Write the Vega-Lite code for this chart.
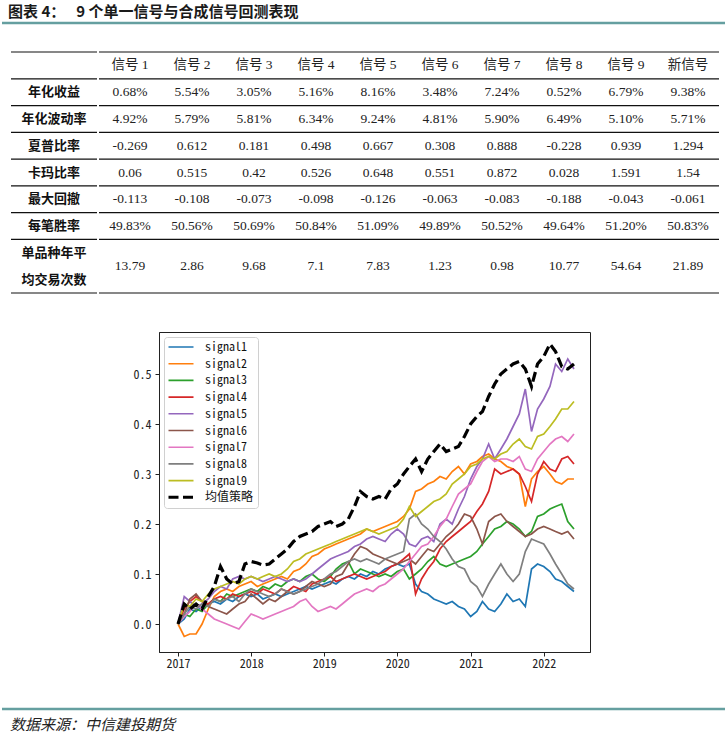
{
  "$schema": "https://vega.github.io/schema/vega-lite/v6.json",
  "padding": 0,
  "background": "white",
  "spacing": 0,
  "resolve": {"scale": {"color": "independent"}, "legend": {"color": "independent"}},
  "config": {"view": {"stroke": null}, "concat": {"spacing": 0}},
  "datasets": {
    "rowlabels": [
      {"row": "r1", "label": "年化收益"},
      {"row": "r2", "label": "年化波动率"},
      {"row": "r3", "label": "夏普比率"},
      {"row": "r4", "label": "卡玛比率"},
      {"row": "r5", "label": "最大回撤"},
      {"row": "r6", "label": "每笔胜率"},
      {"row": "r7a", "label": "单品种年平"},
      {"row": "r7b", "label": "均交易次数"}
    ],
    "hlines": [
      {"row": "hdr"}, {"row": "r1"}, {"row": "r2"}, {"row": "r3"}, {"row": "r4"}, {"row": "r5"}, {"row": "r6"}, {"row": "r7a"}
    ],
    "hbottom": [{"row": "r7b"}],
    "colheads": [
      {"row": "hdr", "col": "信号 1", "text": "信号 1"},
      {"row": "hdr", "col": "信号 2", "text": "信号 2"},
      {"row": "hdr", "col": "信号 3", "text": "信号 3"},
      {"row": "hdr", "col": "信号 4", "text": "信号 4"},
      {"row": "hdr", "col": "信号 5", "text": "信号 5"},
      {"row": "hdr", "col": "信号 6", "text": "信号 6"},
      {"row": "hdr", "col": "信号 7", "text": "信号 7"},
      {"row": "hdr", "col": "信号 8", "text": "信号 8"},
      {"row": "hdr", "col": "信号 9", "text": "信号 9"},
      {"row": "hdr", "col": "新信号", "text": "新信号"}
    ],
    "cells": [
      {"row": "r1", "col": "信号 1", "text": "0.68%"}, {"row": "r1", "col": "信号 2", "text": "5.54%"}, {"row": "r1", "col": "信号 3", "text": "3.05%"}, {"row": "r1", "col": "信号 4", "text": "5.16%"}, {"row": "r1", "col": "信号 5", "text": "8.16%"}, {"row": "r1", "col": "信号 6", "text": "3.48%"}, {"row": "r1", "col": "信号 7", "text": "7.24%"}, {"row": "r1", "col": "信号 8", "text": "0.52%"}, {"row": "r1", "col": "信号 9", "text": "6.79%"}, {"row": "r1", "col": "新信号", "text": "9.38%"},
      {"row": "r2", "col": "信号 1", "text": "4.92%"}, {"row": "r2", "col": "信号 2", "text": "5.79%"}, {"row": "r2", "col": "信号 3", "text": "5.81%"}, {"row": "r2", "col": "信号 4", "text": "6.34%"}, {"row": "r2", "col": "信号 5", "text": "9.24%"}, {"row": "r2", "col": "信号 6", "text": "4.81%"}, {"row": "r2", "col": "信号 7", "text": "5.90%"}, {"row": "r2", "col": "信号 8", "text": "6.49%"}, {"row": "r2", "col": "信号 9", "text": "5.10%"}, {"row": "r2", "col": "新信号", "text": "5.71%"},
      {"row": "r3", "col": "信号 1", "text": "-0.269"}, {"row": "r3", "col": "信号 2", "text": "0.612"}, {"row": "r3", "col": "信号 3", "text": "0.181"}, {"row": "r3", "col": "信号 4", "text": "0.498"}, {"row": "r3", "col": "信号 5", "text": "0.667"}, {"row": "r3", "col": "信号 6", "text": "0.308"}, {"row": "r3", "col": "信号 7", "text": "0.888"}, {"row": "r3", "col": "信号 8", "text": "-0.228"}, {"row": "r3", "col": "信号 9", "text": "0.939"}, {"row": "r3", "col": "新信号", "text": "1.294"},
      {"row": "r4", "col": "信号 1", "text": "0.06"}, {"row": "r4", "col": "信号 2", "text": "0.515"}, {"row": "r4", "col": "信号 3", "text": "0.42"}, {"row": "r4", "col": "信号 4", "text": "0.526"}, {"row": "r4", "col": "信号 5", "text": "0.648"}, {"row": "r4", "col": "信号 6", "text": "0.551"}, {"row": "r4", "col": "信号 7", "text": "0.872"}, {"row": "r4", "col": "信号 8", "text": "0.028"}, {"row": "r4", "col": "信号 9", "text": "1.591"}, {"row": "r4", "col": "新信号", "text": "1.54"},
      {"row": "r5", "col": "信号 1", "text": "-0.113"}, {"row": "r5", "col": "信号 2", "text": "-0.108"}, {"row": "r5", "col": "信号 3", "text": "-0.073"}, {"row": "r5", "col": "信号 4", "text": "-0.098"}, {"row": "r5", "col": "信号 5", "text": "-0.126"}, {"row": "r5", "col": "信号 6", "text": "-0.063"}, {"row": "r5", "col": "信号 7", "text": "-0.083"}, {"row": "r5", "col": "信号 8", "text": "-0.188"}, {"row": "r5", "col": "信号 9", "text": "-0.043"}, {"row": "r5", "col": "新信号", "text": "-0.061"},
      {"row": "r6", "col": "信号 1", "text": "49.83%"}, {"row": "r6", "col": "信号 2", "text": "50.56%"}, {"row": "r6", "col": "信号 3", "text": "50.69%"}, {"row": "r6", "col": "信号 4", "text": "50.84%"}, {"row": "r6", "col": "信号 5", "text": "51.09%"}, {"row": "r6", "col": "信号 6", "text": "49.89%"}, {"row": "r6", "col": "信号 7", "text": "50.52%"}, {"row": "r6", "col": "信号 8", "text": "49.64%"}, {"row": "r6", "col": "信号 9", "text": "51.20%"}, {"row": "r6", "col": "新信号", "text": "50.83%"}
    ],
    "cells7": [
      {"row": "r7a", "col": "信号 1", "text": "13.79"}, {"row": "r7a", "col": "信号 2", "text": "2.86"}, {"row": "r7a", "col": "信号 3", "text": "9.68"}, {"row": "r7a", "col": "信号 4", "text": "7.1"}, {"row": "r7a", "col": "信号 5", "text": "7.83"}, {"row": "r7a", "col": "信号 6", "text": "1.23"}, {"row": "r7a", "col": "信号 7", "text": "0.98"}, {"row": "r7a", "col": "信号 8", "text": "10.77"}, {"row": "r7a", "col": "信号 9", "text": "54.64"}, {"row": "r7a", "col": "新信号", "text": "21.89"}
    ],
    "lines": [
      {"date":"2017-01-01","series":"signal1","value":0},{"date":"2017-02-01","series":"signal1","value":0.01},{"date":"2017-03-01","series":"signal1","value":0.03},{"date":"2017-04-01","series":"signal1","value":0.025},{"date":"2017-05-01","series":"signal1","value":0.035},{"date":"2017-06-01","series":"signal1","value":0.04},{"date":"2017-07-01","series":"signal1","value":0.045},{"date":"2017-08-01","series":"signal1","value":0.04},{"date":"2017-09-01","series":"signal1","value":0.05},{"date":"2017-10-01","series":"signal1","value":0.045},{"date":"2017-11-01","series":"signal1","value":0.055},{"date":"2017-12-01","series":"signal1","value":0.06},
      {"date":"2018-01-01","series":"signal1","value":0.055},{"date":"2018-02-01","series":"signal1","value":0.06},{"date":"2018-03-01","series":"signal1","value":0.05},{"date":"2018-04-01","series":"signal1","value":0.055},{"date":"2018-05-01","series":"signal1","value":0.06},{"date":"2018-06-01","series":"signal1","value":0.055},{"date":"2018-07-01","series":"signal1","value":0.06},{"date":"2018-08-01","series":"signal1","value":0.065},{"date":"2018-09-01","series":"signal1","value":0.07},{"date":"2018-10-01","series":"signal1","value":0.075},{"date":"2018-11-01","series":"signal1","value":0.07},{"date":"2018-12-01","series":"signal1","value":0.075},
      {"date":"2019-01-01","series":"signal1","value":0.08},{"date":"2019-02-01","series":"signal1","value":0.085},{"date":"2019-03-01","series":"signal1","value":0.08},{"date":"2019-04-01","series":"signal1","value":0.09},{"date":"2019-05-01","series":"signal1","value":0.095},{"date":"2019-06-01","series":"signal1","value":0.09},{"date":"2019-07-01","series":"signal1","value":0.1},{"date":"2019-08-01","series":"signal1","value":0.095},{"date":"2019-09-01","series":"signal1","value":0.105},{"date":"2019-10-01","series":"signal1","value":0.1},{"date":"2019-11-01","series":"signal1","value":0.11},{"date":"2019-12-01","series":"signal1","value":0.115},
      {"date":"2020-01-01","series":"signal1","value":0.12},{"date":"2020-02-01","series":"signal1","value":0.115},{"date":"2020-03-01","series":"signal1","value":0.12},{"date":"2020-04-01","series":"signal1","value":0.08},{"date":"2020-05-01","series":"signal1","value":0.065},{"date":"2020-06-01","series":"signal1","value":0.06},{"date":"2020-07-01","series":"signal1","value":0.05},{"date":"2020-08-01","series":"signal1","value":0.045},{"date":"2020-09-01","series":"signal1","value":0.04},{"date":"2020-10-01","series":"signal1","value":0.045},{"date":"2020-11-01","series":"signal1","value":0.035},{"date":"2020-12-01","series":"signal1","value":0.03},
      {"date":"2021-01-01","series":"signal1","value":0.015},{"date":"2021-02-01","series":"signal1","value":0.025},{"date":"2021-03-01","series":"signal1","value":0.045},{"date":"2021-04-01","series":"signal1","value":0.03},{"date":"2021-05-01","series":"signal1","value":0.025},{"date":"2021-06-01","series":"signal1","value":0.04},{"date":"2021-07-01","series":"signal1","value":0.06},{"date":"2021-08-01","series":"signal1","value":0.045},{"date":"2021-09-01","series":"signal1","value":0.05},{"date":"2021-10-01","series":"signal1","value":0.035},{"date":"2021-11-01","series":"signal1","value":0.11},{"date":"2021-12-01","series":"signal1","value":0.12},
      {"date":"2022-01-01","series":"signal1","value":0.115},{"date":"2022-02-01","series":"signal1","value":0.105},{"date":"2022-03-01","series":"signal1","value":0.09},{"date":"2022-04-01","series":"signal1","value":0.085},{"date":"2022-05-01","series":"signal1","value":0.075},{"date":"2022-06-01","series":"signal1","value":0.065},

      {"date":"2017-01-01","series":"signal2","value":0},{"date":"2017-02-01","series":"signal2","value":-0.025},{"date":"2017-03-01","series":"signal2","value":-0.02},{"date":"2017-04-01","series":"signal2","value":-0.02},{"date":"2017-05-01","series":"signal2","value":0},{"date":"2017-06-01","series":"signal2","value":0.03},{"date":"2017-07-01","series":"signal2","value":0.055},{"date":"2017-08-01","series":"signal2","value":0.065},{"date":"2017-09-01","series":"signal2","value":0.07},{"date":"2017-10-01","series":"signal2","value":0.065},{"date":"2017-11-01","series":"signal2","value":0.075},{"date":"2017-12-01","series":"signal2","value":0.08},
      {"date":"2018-01-01","series":"signal2","value":0.085},{"date":"2018-02-01","series":"signal2","value":0.075},{"date":"2018-03-01","series":"signal2","value":0.08},{"date":"2018-04-01","series":"signal2","value":0.085},{"date":"2018-05-01","series":"signal2","value":0.09},{"date":"2018-06-01","series":"signal2","value":0.095},{"date":"2018-07-01","series":"signal2","value":0.09},{"date":"2018-08-01","series":"signal2","value":0.105},{"date":"2018-09-01","series":"signal2","value":0.11},{"date":"2018-10-01","series":"signal2","value":0.12},{"date":"2018-11-01","series":"signal2","value":0.135},{"date":"2018-12-01","series":"signal2","value":0.14},
      {"date":"2019-01-01","series":"signal2","value":0.15},{"date":"2019-02-01","series":"signal2","value":0.155},{"date":"2019-03-01","series":"signal2","value":0.16},{"date":"2019-04-01","series":"signal2","value":0.165},{"date":"2019-05-01","series":"signal2","value":0.17},{"date":"2019-06-01","series":"signal2","value":0.175},{"date":"2019-07-01","series":"signal2","value":0.18},{"date":"2019-08-01","series":"signal2","value":0.19},{"date":"2019-09-01","series":"signal2","value":0.185},{"date":"2019-10-01","series":"signal2","value":0.19},{"date":"2019-11-01","series":"signal2","value":0.195},{"date":"2019-12-01","series":"signal2","value":0.2},
      {"date":"2020-01-01","series":"signal2","value":0.205},{"date":"2020-02-01","series":"signal2","value":0.215},{"date":"2020-03-01","series":"signal2","value":0.23},{"date":"2020-04-01","series":"signal2","value":0.265},{"date":"2020-05-01","series":"signal2","value":0.27},{"date":"2020-06-01","series":"signal2","value":0.28},{"date":"2020-07-01","series":"signal2","value":0.285},{"date":"2020-08-01","series":"signal2","value":0.295},{"date":"2020-09-01","series":"signal2","value":0.29},{"date":"2020-10-01","series":"signal2","value":0.305},{"date":"2020-11-01","series":"signal2","value":0.315},{"date":"2020-12-01","series":"signal2","value":0.3},
      {"date":"2021-01-01","series":"signal2","value":0.32},{"date":"2021-02-01","series":"signal2","value":0.325},{"date":"2021-03-01","series":"signal2","value":0.335},{"date":"2021-04-01","series":"signal2","value":0.34},{"date":"2021-05-01","series":"signal2","value":0.33},{"date":"2021-06-01","series":"signal2","value":0.325},{"date":"2021-07-01","series":"signal2","value":0.315},{"date":"2021-08-01","series":"signal2","value":0.31},{"date":"2021-09-01","series":"signal2","value":0.3},{"date":"2021-10-01","series":"signal2","value":0.235},{"date":"2021-11-01","series":"signal2","value":0.29},{"date":"2021-12-01","series":"signal2","value":0.305},
      {"date":"2022-01-01","series":"signal2","value":0.315},{"date":"2022-02-01","series":"signal2","value":0.3},{"date":"2022-03-01","series":"signal2","value":0.285},{"date":"2022-04-01","series":"signal2","value":0.28},{"date":"2022-05-01","series":"signal2","value":0.29},{"date":"2022-06-01","series":"signal2","value":0.29},

      {"date":"2017-01-01","series":"signal3","value":0},{"date":"2017-02-01","series":"signal3","value":0.02},{"date":"2017-03-01","series":"signal3","value":0.015},{"date":"2017-04-01","series":"signal3","value":0.03},{"date":"2017-05-01","series":"signal3","value":0.025},{"date":"2017-06-01","series":"signal3","value":0.04},{"date":"2017-07-01","series":"signal3","value":0.05},{"date":"2017-08-01","series":"signal3","value":0.045},{"date":"2017-09-01","series":"signal3","value":0.06},{"date":"2017-10-01","series":"signal3","value":0.055},{"date":"2017-11-01","series":"signal3","value":0.06},{"date":"2017-12-01","series":"signal3","value":0.065},
      {"date":"2018-01-01","series":"signal3","value":0.07},{"date":"2018-02-01","series":"signal3","value":0.065},{"date":"2018-03-01","series":"signal3","value":0.075},{"date":"2018-04-01","series":"signal3","value":0.07},{"date":"2018-05-01","series":"signal3","value":0.08},{"date":"2018-06-01","series":"signal3","value":0.075},{"date":"2018-07-01","series":"signal3","value":0.085},{"date":"2018-08-01","series":"signal3","value":0.09},{"date":"2018-09-01","series":"signal3","value":0.085},{"date":"2018-10-01","series":"signal3","value":0.095},{"date":"2018-11-01","series":"signal3","value":0.1},{"date":"2018-12-01","series":"signal3","value":0.09},
      {"date":"2019-01-01","series":"signal3","value":0.085},{"date":"2019-02-01","series":"signal3","value":0.095},{"date":"2019-03-01","series":"signal3","value":0.11},{"date":"2019-04-01","series":"signal3","value":0.12},{"date":"2019-05-01","series":"signal3","value":0.125},{"date":"2019-06-01","series":"signal3","value":0.1},{"date":"2019-07-01","series":"signal3","value":0.11},{"date":"2019-08-01","series":"signal3","value":0.105},{"date":"2019-09-01","series":"signal3","value":0.1},{"date":"2019-10-01","series":"signal3","value":0.095},{"date":"2019-11-01","series":"signal3","value":0.1},{"date":"2019-12-01","series":"signal3","value":0.095},
      {"date":"2020-01-01","series":"signal3","value":0.105},{"date":"2020-02-01","series":"signal3","value":0.11},{"date":"2020-03-01","series":"signal3","value":0.09},{"date":"2020-04-01","series":"signal3","value":0.1},{"date":"2020-05-01","series":"signal3","value":0.11},{"date":"2020-06-01","series":"signal3","value":0.125},{"date":"2020-07-01","series":"signal3","value":0.135},{"date":"2020-08-01","series":"signal3","value":0.12},{"date":"2020-09-01","series":"signal3","value":0.115},{"date":"2020-10-01","series":"signal3","value":0.12},{"date":"2020-11-01","series":"signal3","value":0.125},{"date":"2020-12-01","series":"signal3","value":0.13},
      {"date":"2021-01-01","series":"signal3","value":0.135},{"date":"2021-02-01","series":"signal3","value":0.145},{"date":"2021-03-01","series":"signal3","value":0.16},{"date":"2021-04-01","series":"signal3","value":0.175},{"date":"2021-05-01","series":"signal3","value":0.19},{"date":"2021-06-01","series":"signal3","value":0.195},{"date":"2021-07-01","series":"signal3","value":0.205},{"date":"2021-08-01","series":"signal3","value":0.2},{"date":"2021-09-01","series":"signal3","value":0.19},{"date":"2021-10-01","series":"signal3","value":0.175},{"date":"2021-11-01","series":"signal3","value":0.185},{"date":"2021-12-01","series":"signal3","value":0.215},
      {"date":"2022-01-01","series":"signal3","value":0.22},{"date":"2022-02-01","series":"signal3","value":0.23},{"date":"2022-03-01","series":"signal3","value":0.235},{"date":"2022-04-01","series":"signal3","value":0.24},{"date":"2022-05-01","series":"signal3","value":0.205},{"date":"2022-06-01","series":"signal3","value":0.19},

      {"date":"2017-01-01","series":"signal4","value":0},{"date":"2017-02-01","series":"signal4","value":0.03},{"date":"2017-03-01","series":"signal4","value":0.045},{"date":"2017-04-01","series":"signal4","value":0.055},{"date":"2017-05-01","series":"signal4","value":0.045},{"date":"2017-06-01","series":"signal4","value":0.04},{"date":"2017-07-01","series":"signal4","value":0.05},{"date":"2017-08-01","series":"signal4","value":0.055},{"date":"2017-09-01","series":"signal4","value":0.05},{"date":"2017-10-01","series":"signal4","value":0.06},{"date":"2017-11-01","series":"signal4","value":0.055},{"date":"2017-12-01","series":"signal4","value":0.06},
      {"date":"2018-01-01","series":"signal4","value":0.065},{"date":"2018-02-01","series":"signal4","value":0.06},{"date":"2018-03-01","series":"signal4","value":0.07},{"date":"2018-04-01","series":"signal4","value":0.065},{"date":"2018-05-01","series":"signal4","value":0.06},{"date":"2018-06-01","series":"signal4","value":0.07},{"date":"2018-07-01","series":"signal4","value":0.065},{"date":"2018-08-01","series":"signal4","value":0.075},{"date":"2018-09-01","series":"signal4","value":0.07},{"date":"2018-10-01","series":"signal4","value":0.065},{"date":"2018-11-01","series":"signal4","value":0.08},{"date":"2018-12-01","series":"signal4","value":0.085},
      {"date":"2019-01-01","series":"signal4","value":0.09},{"date":"2019-02-01","series":"signal4","value":0.095},{"date":"2019-03-01","series":"signal4","value":0.085},{"date":"2019-04-01","series":"signal4","value":0.09},{"date":"2019-05-01","series":"signal4","value":0.095},{"date":"2019-06-01","series":"signal4","value":0.1},{"date":"2019-07-01","series":"signal4","value":0.095},{"date":"2019-08-01","series":"signal4","value":0.09},{"date":"2019-09-01","series":"signal4","value":0.095},{"date":"2019-10-01","series":"signal4","value":0.1},{"date":"2019-11-01","series":"signal4","value":0.105},{"date":"2019-12-01","series":"signal4","value":0.115},
      {"date":"2020-01-01","series":"signal4","value":0.12},{"date":"2020-02-01","series":"signal4","value":0.13},{"date":"2020-03-01","series":"signal4","value":0.14},{"date":"2020-04-01","series":"signal4","value":0.06},{"date":"2020-05-01","series":"signal4","value":0.09},{"date":"2020-06-01","series":"signal4","value":0.11},{"date":"2020-07-01","series":"signal4","value":0.125},{"date":"2020-08-01","series":"signal4","value":0.15},{"date":"2020-09-01","series":"signal4","value":0.165},{"date":"2020-10-01","series":"signal4","value":0.175},{"date":"2020-11-01","series":"signal4","value":0.185},{"date":"2020-12-01","series":"signal4","value":0.195},
      {"date":"2021-01-01","series":"signal4","value":0.205},{"date":"2021-02-01","series":"signal4","value":0.225},{"date":"2021-03-01","series":"signal4","value":0.24},{"date":"2021-04-01","series":"signal4","value":0.265},{"date":"2021-05-01","series":"signal4","value":0.31},{"date":"2021-06-01","series":"signal4","value":0.3},{"date":"2021-07-01","series":"signal4","value":0.305},{"date":"2021-08-01","series":"signal4","value":0.31},{"date":"2021-09-01","series":"signal4","value":0.3},{"date":"2021-10-01","series":"signal4","value":0.275},{"date":"2021-11-01","series":"signal4","value":0.245},{"date":"2021-12-01","series":"signal4","value":0.3},
      {"date":"2022-01-01","series":"signal4","value":0.325},{"date":"2022-02-01","series":"signal4","value":0.31},{"date":"2022-03-01","series":"signal4","value":0.305},{"date":"2022-04-01","series":"signal4","value":0.33},{"date":"2022-05-01","series":"signal4","value":0.335},{"date":"2022-06-01","series":"signal4","value":0.32},

      {"date":"2017-01-01","series":"signal5","value":0},{"date":"2017-02-01","series":"signal5","value":0.055},{"date":"2017-03-01","series":"signal5","value":0.045},{"date":"2017-04-01","series":"signal5","value":0.035},{"date":"2017-05-01","series":"signal5","value":0.04},{"date":"2017-06-01","series":"signal5","value":0.05},{"date":"2017-07-01","series":"signal5","value":0.065},{"date":"2017-08-01","series":"signal5","value":0.075},{"date":"2017-09-01","series":"signal5","value":0.07},{"date":"2017-10-01","series":"signal5","value":0.09},{"date":"2017-11-01","series":"signal5","value":0.095},{"date":"2017-12-01","series":"signal5","value":0.09},
      {"date":"2018-01-01","series":"signal5","value":0.095},{"date":"2018-02-01","series":"signal5","value":0.09},{"date":"2018-03-01","series":"signal5","value":0.085},{"date":"2018-04-01","series":"signal5","value":0.09},{"date":"2018-05-01","series":"signal5","value":0.095},{"date":"2018-06-01","series":"signal5","value":0.09},{"date":"2018-07-01","series":"signal5","value":0.085},{"date":"2018-08-01","series":"signal5","value":0.09},{"date":"2018-09-01","series":"signal5","value":0.085},{"date":"2018-10-01","series":"signal5","value":0.09},{"date":"2018-11-01","series":"signal5","value":0.1},{"date":"2018-12-01","series":"signal5","value":0.11},
      {"date":"2019-01-01","series":"signal5","value":0.12},{"date":"2019-02-01","series":"signal5","value":0.13},{"date":"2019-03-01","series":"signal5","value":0.135},{"date":"2019-04-01","series":"signal5","value":0.14},{"date":"2019-05-01","series":"signal5","value":0.145},{"date":"2019-06-01","series":"signal5","value":0.155},{"date":"2019-07-01","series":"signal5","value":0.16},{"date":"2019-08-01","series":"signal5","value":0.17},{"date":"2019-09-01","series":"signal5","value":0.175},{"date":"2019-10-01","series":"signal5","value":0.17},{"date":"2019-11-01","series":"signal5","value":0.165},{"date":"2019-12-01","series":"signal5","value":0.18},
      {"date":"2020-01-01","series":"signal5","value":0.19},{"date":"2020-02-01","series":"signal5","value":0.18},{"date":"2020-03-01","series":"signal5","value":0.16},{"date":"2020-04-01","series":"signal5","value":0.155},{"date":"2020-05-01","series":"signal5","value":0.17},{"date":"2020-06-01","series":"signal5","value":0.175},{"date":"2020-07-01","series":"signal5","value":0.165},{"date":"2020-08-01","series":"signal5","value":0.2},{"date":"2020-09-01","series":"signal5","value":0.21},{"date":"2020-10-01","series":"signal5","value":0.2},{"date":"2020-11-01","series":"signal5","value":0.23},{"date":"2020-12-01","series":"signal5","value":0.255},
      {"date":"2021-01-01","series":"signal5","value":0.29},{"date":"2021-02-01","series":"signal5","value":0.315},{"date":"2021-03-01","series":"signal5","value":0.33},{"date":"2021-04-01","series":"signal5","value":0.36},{"date":"2021-05-01","series":"signal5","value":0.33},{"date":"2021-06-01","series":"signal5","value":0.35},{"date":"2021-07-01","series":"signal5","value":0.37},{"date":"2021-08-01","series":"signal5","value":0.395},{"date":"2021-09-01","series":"signal5","value":0.42},{"date":"2021-10-01","series":"signal5","value":0.47},{"date":"2021-11-01","series":"signal5","value":0.385},{"date":"2021-12-01","series":"signal5","value":0.43},
      {"date":"2022-01-01","series":"signal5","value":0.45},{"date":"2022-02-01","series":"signal5","value":0.475},{"date":"2022-03-01","series":"signal5","value":0.52},{"date":"2022-04-01","series":"signal5","value":0.505},{"date":"2022-05-01","series":"signal5","value":0.53},{"date":"2022-06-01","series":"signal5","value":0.51},

      {"date":"2017-01-01","series":"signal6","value":0},{"date":"2017-02-01","series":"signal6","value":0.02},{"date":"2017-03-01","series":"signal6","value":0.05},{"date":"2017-04-01","series":"signal6","value":0.06},{"date":"2017-05-01","series":"signal6","value":0.045},{"date":"2017-06-01","series":"signal6","value":0.035},{"date":"2017-07-01","series":"signal6","value":0.03},{"date":"2017-08-01","series":"signal6","value":0.025},{"date":"2017-09-01","series":"signal6","value":0.02},{"date":"2017-10-01","series":"signal6","value":0.03},{"date":"2017-11-01","series":"signal6","value":0.04},{"date":"2017-12-01","series":"signal6","value":0.045},
      {"date":"2018-01-01","series":"signal6","value":0.06},{"date":"2018-02-01","series":"signal6","value":0.05},{"date":"2018-03-01","series":"signal6","value":0.04},{"date":"2018-04-01","series":"signal6","value":0.05},{"date":"2018-05-01","series":"signal6","value":0.045},{"date":"2018-06-01","series":"signal6","value":0.055},{"date":"2018-07-01","series":"signal6","value":0.065},{"date":"2018-08-01","series":"signal6","value":0.06},{"date":"2018-09-01","series":"signal6","value":0.065},{"date":"2018-10-01","series":"signal6","value":0.075},{"date":"2018-11-01","series":"signal6","value":0.085},{"date":"2018-12-01","series":"signal6","value":0.08},
      {"date":"2019-01-01","series":"signal6","value":0.075},{"date":"2019-02-01","series":"signal6","value":0.08},{"date":"2019-03-01","series":"signal6","value":0.095},{"date":"2019-04-01","series":"signal6","value":0.1},{"date":"2019-05-01","series":"signal6","value":0.12},{"date":"2019-06-01","series":"signal6","value":0.14},{"date":"2019-07-01","series":"signal6","value":0.155},{"date":"2019-08-01","series":"signal6","value":0.15},{"date":"2019-09-01","series":"signal6","value":0.14},{"date":"2019-10-01","series":"signal6","value":0.135},{"date":"2019-11-01","series":"signal6","value":0.13},{"date":"2019-12-01","series":"signal6","value":0.125},
      {"date":"2020-01-01","series":"signal6","value":0.12},{"date":"2020-02-01","series":"signal6","value":0.125},{"date":"2020-03-01","series":"signal6","value":0.13},{"date":"2020-04-01","series":"signal6","value":0.12},{"date":"2020-05-01","series":"signal6","value":0.135},{"date":"2020-06-01","series":"signal6","value":0.15},{"date":"2020-07-01","series":"signal6","value":0.145},{"date":"2020-08-01","series":"signal6","value":0.16},{"date":"2020-09-01","series":"signal6","value":0.175},{"date":"2020-10-01","series":"signal6","value":0.185},{"date":"2020-11-01","series":"signal6","value":0.2},{"date":"2020-12-01","series":"signal6","value":0.22},
      {"date":"2021-01-01","series":"signal6","value":0.215},{"date":"2021-02-01","series":"signal6","value":0.19},{"date":"2021-03-01","series":"signal6","value":0.16},{"date":"2021-04-01","series":"signal6","value":0.205},{"date":"2021-05-01","series":"signal6","value":0.215},{"date":"2021-06-01","series":"signal6","value":0.22},{"date":"2021-07-01","series":"signal6","value":0.205},{"date":"2021-08-01","series":"signal6","value":0.195},{"date":"2021-09-01","series":"signal6","value":0.185},{"date":"2021-10-01","series":"signal6","value":0.175},{"date":"2021-11-01","series":"signal6","value":0.18},{"date":"2021-12-01","series":"signal6","value":0.19},
      {"date":"2022-01-01","series":"signal6","value":0.195},{"date":"2022-02-01","series":"signal6","value":0.19},{"date":"2022-03-01","series":"signal6","value":0.185},{"date":"2022-04-01","series":"signal6","value":0.18},{"date":"2022-05-01","series":"signal6","value":0.185},{"date":"2022-06-01","series":"signal6","value":0.17},

      {"date":"2017-01-01","series":"signal7","value":0},{"date":"2017-02-01","series":"signal7","value":0.015},{"date":"2017-03-01","series":"signal7","value":0.025},{"date":"2017-04-01","series":"signal7","value":0.04},{"date":"2017-05-01","series":"signal7","value":0.03},{"date":"2017-06-01","series":"signal7","value":0.02},{"date":"2017-07-01","series":"signal7","value":0.01},{"date":"2017-08-01","series":"signal7","value":0.005},{"date":"2017-09-01","series":"signal7","value":0},{"date":"2017-10-01","series":"signal7","value":-0.005},{"date":"2017-11-01","series":"signal7","value":-0.01},{"date":"2017-12-01","series":"signal7","value":0.005},
      {"date":"2018-01-01","series":"signal7","value":0.02},{"date":"2018-02-01","series":"signal7","value":0.015},{"date":"2018-03-01","series":"signal7","value":0.01},{"date":"2018-04-01","series":"signal7","value":0.015},{"date":"2018-05-01","series":"signal7","value":0.02},{"date":"2018-06-01","series":"signal7","value":0.025},{"date":"2018-07-01","series":"signal7","value":0.03},{"date":"2018-08-01","series":"signal7","value":0.035},{"date":"2018-09-01","series":"signal7","value":0.045},{"date":"2018-10-01","series":"signal7","value":0.05},{"date":"2018-11-01","series":"signal7","value":0.035},{"date":"2018-12-01","series":"signal7","value":0.025},
      {"date":"2019-01-01","series":"signal7","value":0.03},{"date":"2019-02-01","series":"signal7","value":0.035},{"date":"2019-03-01","series":"signal7","value":0.03},{"date":"2019-04-01","series":"signal7","value":0.04},{"date":"2019-05-01","series":"signal7","value":0.05},{"date":"2019-06-01","series":"signal7","value":0.06},{"date":"2019-07-01","series":"signal7","value":0.065},{"date":"2019-08-01","series":"signal7","value":0.07},{"date":"2019-09-01","series":"signal7","value":0.065},{"date":"2019-10-01","series":"signal7","value":0.075},{"date":"2019-11-01","series":"signal7","value":0.08},{"date":"2019-12-01","series":"signal7","value":0.09},
      {"date":"2020-01-01","series":"signal7","value":0.1},{"date":"2020-02-01","series":"signal7","value":0.11},{"date":"2020-03-01","series":"signal7","value":0.125},{"date":"2020-04-01","series":"signal7","value":0.14},{"date":"2020-05-01","series":"signal7","value":0.155},{"date":"2020-06-01","series":"signal7","value":0.16},{"date":"2020-07-01","series":"signal7","value":0.175},{"date":"2020-08-01","series":"signal7","value":0.195},{"date":"2020-09-01","series":"signal7","value":0.21},{"date":"2020-10-01","series":"signal7","value":0.235},{"date":"2020-11-01","series":"signal7","value":0.26},{"date":"2020-12-01","series":"signal7","value":0.27},
      {"date":"2021-01-01","series":"signal7","value":0.28},{"date":"2021-02-01","series":"signal7","value":0.305},{"date":"2021-03-01","series":"signal7","value":0.325},{"date":"2021-04-01","series":"signal7","value":0.335},{"date":"2021-05-01","series":"signal7","value":0.325},{"date":"2021-06-01","series":"signal7","value":0.33},{"date":"2021-07-01","series":"signal7","value":0.33},{"date":"2021-08-01","series":"signal7","value":0.325},{"date":"2021-09-01","series":"signal7","value":0.335},{"date":"2021-10-01","series":"signal7","value":0.31},{"date":"2021-11-01","series":"signal7","value":0.305},{"date":"2021-12-01","series":"signal7","value":0.33},
      {"date":"2022-01-01","series":"signal7","value":0.345},{"date":"2022-02-01","series":"signal7","value":0.36},{"date":"2022-03-01","series":"signal7","value":0.37},{"date":"2022-04-01","series":"signal7","value":0.375},{"date":"2022-05-01","series":"signal7","value":0.365},{"date":"2022-06-01","series":"signal7","value":0.38},

      {"date":"2017-01-01","series":"signal8","value":0},{"date":"2017-02-01","series":"signal8","value":0.02},{"date":"2017-03-01","series":"signal8","value":0.035},{"date":"2017-04-01","series":"signal8","value":0.03},{"date":"2017-05-01","series":"signal8","value":0.04},{"date":"2017-06-01","series":"signal8","value":0.035},{"date":"2017-07-01","series":"signal8","value":0.05},{"date":"2017-08-01","series":"signal8","value":0.045},{"date":"2017-09-01","series":"signal8","value":0.05},{"date":"2017-10-01","series":"signal8","value":0.055},{"date":"2017-11-01","series":"signal8","value":0.045},{"date":"2017-12-01","series":"signal8","value":0.06},
      {"date":"2018-01-01","series":"signal8","value":0.07},{"date":"2018-02-01","series":"signal8","value":0.065},{"date":"2018-03-01","series":"signal8","value":0.06},{"date":"2018-04-01","series":"signal8","value":0.055},{"date":"2018-05-01","series":"signal8","value":0.06},{"date":"2018-06-01","series":"signal8","value":0.07},{"date":"2018-07-01","series":"signal8","value":0.065},{"date":"2018-08-01","series":"signal8","value":0.06},{"date":"2018-09-01","series":"signal8","value":0.065},{"date":"2018-10-01","series":"signal8","value":0.07},{"date":"2018-11-01","series":"signal8","value":0.075},{"date":"2018-12-01","series":"signal8","value":0.08},
      {"date":"2019-01-01","series":"signal8","value":0.09},{"date":"2019-02-01","series":"signal8","value":0.1},{"date":"2019-03-01","series":"signal8","value":0.105},{"date":"2019-04-01","series":"signal8","value":0.115},{"date":"2019-05-01","series":"signal8","value":0.125},{"date":"2019-06-01","series":"signal8","value":0.13},{"date":"2019-07-01","series":"signal8","value":0.125},{"date":"2019-08-01","series":"signal8","value":0.13},{"date":"2019-09-01","series":"signal8","value":0.125},{"date":"2019-10-01","series":"signal8","value":0.12},{"date":"2019-11-01","series":"signal8","value":0.13},{"date":"2019-12-01","series":"signal8","value":0.135},
      {"date":"2020-01-01","series":"signal8","value":0.14},{"date":"2020-02-01","series":"signal8","value":0.145},{"date":"2020-03-01","series":"signal8","value":0.21},{"date":"2020-04-01","series":"signal8","value":0.22},{"date":"2020-05-01","series":"signal8","value":0.2},{"date":"2020-06-01","series":"signal8","value":0.19},{"date":"2020-07-01","series":"signal8","value":0.175},{"date":"2020-08-01","series":"signal8","value":0.165},{"date":"2020-09-01","series":"signal8","value":0.15},{"date":"2020-10-01","series":"signal8","value":0.13},{"date":"2020-11-01","series":"signal8","value":0.115},{"date":"2020-12-01","series":"signal8","value":0.11},
      {"date":"2021-01-01","series":"signal8","value":0.085},{"date":"2021-02-01","series":"signal8","value":0.075},{"date":"2021-03-01","series":"signal8","value":0.055},{"date":"2021-04-01","series":"signal8","value":0.08},{"date":"2021-05-01","series":"signal8","value":0.1},{"date":"2021-06-01","series":"signal8","value":0.12},{"date":"2021-07-01","series":"signal8","value":0.1},{"date":"2021-08-01","series":"signal8","value":0.085},{"date":"2021-09-01","series":"signal8","value":0.1},{"date":"2021-10-01","series":"signal8","value":0.145},{"date":"2021-11-01","series":"signal8","value":0.17},{"date":"2021-12-01","series":"signal8","value":0.165},
      {"date":"2022-01-01","series":"signal8","value":0.16},{"date":"2022-02-01","series":"signal8","value":0.14},{"date":"2022-03-01","series":"signal8","value":0.12},{"date":"2022-04-01","series":"signal8","value":0.1},{"date":"2022-05-01","series":"signal8","value":0.08},{"date":"2022-06-01","series":"signal8","value":0.07},

      {"date":"2017-01-01","series":"signal9","value":0},{"date":"2017-02-01","series":"signal9","value":0.04},{"date":"2017-03-01","series":"signal9","value":0.035},{"date":"2017-04-01","series":"signal9","value":0.05},{"date":"2017-05-01","series":"signal9","value":0.045},{"date":"2017-06-01","series":"signal9","value":0.06},{"date":"2017-07-01","series":"signal9","value":0.07},{"date":"2017-08-01","series":"signal9","value":0.075},{"date":"2017-09-01","series":"signal9","value":0.08},{"date":"2017-10-01","series":"signal9","value":0.085},{"date":"2017-11-01","series":"signal9","value":0.08},{"date":"2017-12-01","series":"signal9","value":0.09},
      {"date":"2018-01-01","series":"signal9","value":0.095},{"date":"2018-02-01","series":"signal9","value":0.09},{"date":"2018-03-01","series":"signal9","value":0.095},{"date":"2018-04-01","series":"signal9","value":0.1},{"date":"2018-05-01","series":"signal9","value":0.095},{"date":"2018-06-01","series":"signal9","value":0.1},{"date":"2018-07-01","series":"signal9","value":0.11},{"date":"2018-08-01","series":"signal9","value":0.125},{"date":"2018-09-01","series":"signal9","value":0.13},{"date":"2018-10-01","series":"signal9","value":0.14},{"date":"2018-11-01","series":"signal9","value":0.145},{"date":"2018-12-01","series":"signal9","value":0.15},
      {"date":"2019-01-01","series":"signal9","value":0.155},{"date":"2019-02-01","series":"signal9","value":0.16},{"date":"2019-03-01","series":"signal9","value":0.165},{"date":"2019-04-01","series":"signal9","value":0.17},{"date":"2019-05-01","series":"signal9","value":0.175},{"date":"2019-06-01","series":"signal9","value":0.18},{"date":"2019-07-01","series":"signal9","value":0.185},{"date":"2019-08-01","series":"signal9","value":0.19},{"date":"2019-09-01","series":"signal9","value":0.185},{"date":"2019-10-01","series":"signal9","value":0.18},{"date":"2019-11-01","series":"signal9","value":0.185},{"date":"2019-12-01","series":"signal9","value":0.19},
      {"date":"2020-01-01","series":"signal9","value":0.195},{"date":"2020-02-01","series":"signal9","value":0.21},{"date":"2020-03-01","series":"signal9","value":0.235},{"date":"2020-04-01","series":"signal9","value":0.215},{"date":"2020-05-01","series":"signal9","value":0.225},{"date":"2020-06-01","series":"signal9","value":0.235},{"date":"2020-07-01","series":"signal9","value":0.245},{"date":"2020-08-01","series":"signal9","value":0.25},{"date":"2020-09-01","series":"signal9","value":0.26},{"date":"2020-10-01","series":"signal9","value":0.28},{"date":"2020-11-01","series":"signal9","value":0.29},{"date":"2020-12-01","series":"signal9","value":0.3},
      {"date":"2021-01-01","series":"signal9","value":0.315},{"date":"2021-02-01","series":"signal9","value":0.32},{"date":"2021-03-01","series":"signal9","value":0.33},{"date":"2021-04-01","series":"signal9","value":0.335},{"date":"2021-05-01","series":"signal9","value":0.33},{"date":"2021-06-01","series":"signal9","value":0.34},{"date":"2021-07-01","series":"signal9","value":0.345},{"date":"2021-08-01","series":"signal9","value":0.36},{"date":"2021-09-01","series":"signal9","value":0.37},{"date":"2021-10-01","series":"signal9","value":0.355},{"date":"2021-11-01","series":"signal9","value":0.35},{"date":"2021-12-01","series":"signal9","value":0.375},
      {"date":"2022-01-01","series":"signal9","value":0.38},{"date":"2022-02-01","series":"signal9","value":0.395},{"date":"2022-03-01","series":"signal9","value":0.41},{"date":"2022-04-01","series":"signal9","value":0.43},{"date":"2022-05-01","series":"signal9","value":0.43},{"date":"2022-06-01","series":"signal9","value":0.445},

      {"date":"2017-01-01","series":"均值策略","value":0},{"date":"2017-02-01","series":"均值策略","value":0.04},{"date":"2017-03-01","series":"均值策略","value":0.03},{"date":"2017-04-01","series":"均值策略","value":0.04},{"date":"2017-05-01","series":"均值策略","value":0.03},{"date":"2017-06-01","series":"均值策略","value":0.055},{"date":"2017-07-01","series":"均值策略","value":0.075},{"date":"2017-08-01","series":"均值策略","value":0.115},{"date":"2017-09-01","series":"均值策略","value":0.09},{"date":"2017-10-01","series":"均值策略","value":0.08},{"date":"2017-11-01","series":"均值策略","value":0.085},{"date":"2017-12-01","series":"均值策略","value":0.12},
      {"date":"2018-01-01","series":"均值策略","value":0.125},{"date":"2018-02-01","series":"均值策略","value":0.122},{"date":"2018-03-01","series":"均值策略","value":0.118},{"date":"2018-04-01","series":"均值策略","value":0.12},{"date":"2018-05-01","series":"均值策略","value":0.13},{"date":"2018-06-01","series":"均值策略","value":0.14},{"date":"2018-07-01","series":"均值策略","value":0.15},{"date":"2018-08-01","series":"均值策略","value":0.165},{"date":"2018-09-01","series":"均值策略","value":0.175},{"date":"2018-10-01","series":"均值策略","value":0.18},{"date":"2018-11-01","series":"均值策略","value":0.185},{"date":"2018-12-01","series":"均值策略","value":0.195},
      {"date":"2019-01-01","series":"均值策略","value":0.2},{"date":"2019-02-01","series":"均值策略","value":0.205},{"date":"2019-03-01","series":"均值策略","value":0.195},{"date":"2019-04-01","series":"均值策略","value":0.2},{"date":"2019-05-01","series":"均值策略","value":0.21},{"date":"2019-06-01","series":"均值策略","value":0.235},{"date":"2019-07-01","series":"均值策略","value":0.265},{"date":"2019-08-01","series":"均值策略","value":0.255},{"date":"2019-09-01","series":"均值策略","value":0.25},{"date":"2019-10-01","series":"均值策略","value":0.255},{"date":"2019-11-01","series":"均值策略","value":0.25},{"date":"2019-12-01","series":"均值策略","value":0.27},
      {"date":"2020-01-01","series":"均值策略","value":0.28},{"date":"2020-02-01","series":"均值策略","value":0.3},{"date":"2020-03-01","series":"均值策略","value":0.315},{"date":"2020-04-01","series":"均值策略","value":0.33},{"date":"2020-05-01","series":"均值策略","value":0.305},{"date":"2020-06-01","series":"均值策略","value":0.33},{"date":"2020-07-01","series":"均值策略","value":0.345},{"date":"2020-08-01","series":"均值策略","value":0.36},{"date":"2020-09-01","series":"均值策略","value":0.345},{"date":"2020-10-01","series":"均值策略","value":0.35},{"date":"2020-11-01","series":"均值策略","value":0.355},{"date":"2020-12-01","series":"均值策略","value":0.375},
      {"date":"2021-01-01","series":"均值策略","value":0.4},{"date":"2021-02-01","series":"均值策略","value":0.415},{"date":"2021-03-01","series":"均值策略","value":0.425},{"date":"2021-04-01","series":"均值策略","value":0.455},{"date":"2021-05-01","series":"均值策略","value":0.48},{"date":"2021-06-01","series":"均值策略","value":0.5},{"date":"2021-07-01","series":"均值策略","value":0.51},{"date":"2021-08-01","series":"均值策略","value":0.52},{"date":"2021-09-01","series":"均值策略","value":0.525},{"date":"2021-10-01","series":"均值策略","value":0.51},{"date":"2021-11-01","series":"均值策略","value":0.475},{"date":"2021-12-01","series":"均值策略","value":0.52},
      {"date":"2022-01-01","series":"均值策略","value":0.535},{"date":"2022-02-01","series":"均值策略","value":0.56},{"date":"2022-03-01","series":"均值策略","value":0.545},{"date":"2022-04-01","series":"均值策略","value":0.515},{"date":"2022-05-01","series":"均值策略","value":0.51},{"date":"2022-06-01","series":"均值策略","value":0.52}
    ]
  },
  "vconcat": [
    {
      "width": 725,
      "height": 51,
      "data": {"values": [{"k": "t"}]},
      "layer": [
        {
          "mark": {"type": "text", "align": "left", "baseline": "middle", "dx": 6, "font": "Noto Sans CJK SC", "fontSize": 15, "fontWeight": "bold", "color": "#1a1a1a"},
          "encoding": {
            "x": {"field": "k", "type": "nominal", "bandPosition": 0, "scale": {"type": "band", "paddingInner": 0, "paddingOuter": 0}, "axis": null},
            "y": {"field": "k", "type": "nominal", "bandPosition": 0.47, "scale": {"type": "band", "domain": ["t", "u"], "paddingInner": 0, "paddingOuter": 0}, "axis": null},
            "text": {"value": "图表 4：\u2002 9 个单一信号与合成信号回测表现"}
          }
        },
        {
          "mark": {"type": "rule", "color": "#659fa0", "strokeWidth": 2.5},
          "encoding": {
            "y": {"field": "k", "type": "nominal", "bandPosition": 0.9, "scale": {"type": "band", "domain": ["t", "u"], "paddingInner": 0, "paddingOuter": 0}, "axis": null}
          }
        }
      ]
    },
    {
      "spacing": 0,
      "hconcat": [
        {
          "width": 8,
          "height": 1,
          "data": {"values": []},
          "mark": {"type": "text"},
          "encoding": {"text": {"value": ""}}
        },
        {
          "width": 86,
          "height": 241,
          "layer": [
            {
              "data": {"name": "rowlabels"},
              "mark": {"type": "text", "font": "Noto Sans CJK SC", "fontSize": 13, "fontWeight": "bold", "color": "#111111"},
              "encoding": {
                "y": {"field": "row", "type": "nominal", "scale": {"type": "band", "domain": ["hdr", "r1", "r2", "r3", "r4", "r5", "r6", "r7a", "r7b"], "paddingInner": 0, "paddingOuter": 0}, "axis": null},
                "text": {"field": "label"}
              }
            },
            {
              "data": {"name": "hlines"},
              "mark": {"type": "rule", "color": "#111111", "strokeWidth": 1.2},
              "encoding": {
                "y": {"field": "row", "type": "nominal", "bandPosition": 0, "scale": {"type": "band", "domain": ["hdr", "r1", "r2", "r3", "r4", "r5", "r6", "r7a", "r7b"], "paddingInner": 0, "paddingOuter": 0}, "axis": null}
              }
            },
            {
              "data": {"name": "hbottom"},
              "mark": {"type": "rule", "color": "#111111", "strokeWidth": 1.2},
              "encoding": {
                "y": {"field": "row", "type": "nominal", "bandPosition": 1, "scale": {"type": "band", "domain": ["hdr", "r1", "r2", "r3", "r4", "r5", "r6", "r7a", "r7b"], "paddingInner": 0, "paddingOuter": 0}, "axis": null}
              }
            }
          ]
        },
        {
          "width": 620,
          "height": 241,
          "layer": [
            {
              "data": {"name": "colheads"},
              "mark": {"type": "text", "font": "Liberation Serif, Noto Sans CJK SC", "fontSize": 13.5, "color": "#222222"},
              "encoding": {
                "x": {"field": "col", "type": "nominal", "scale": {"type": "band", "domain": ["信号 1", "信号 2", "信号 3", "信号 4", "信号 5", "信号 6", "信号 7", "信号 8", "信号 9", "新信号"], "paddingInner": 0, "paddingOuter": 0}, "axis": {"orient": "bottom", "title": null, "labels": false, "ticks": false, "domain": false, "grid": false, "minExtent": 38, "maxExtent": 38}},
                "y": {"field": "row", "type": "nominal", "scale": {"type": "band", "domain": ["hdr", "r1", "r2", "r3", "r4", "r5", "r6", "r7a", "r7b"], "paddingInner": 0, "paddingOuter": 0}, "axis": null},
                "text": {"field": "text"}
              }
            },
            {
              "data": {"name": "cells"},
              "mark": {"type": "text", "font": "Liberation Serif", "fontSize": 13.5, "color": "#222222"},
              "encoding": {
                "x": {"field": "col", "type": "nominal", "scale": {"type": "band", "domain": ["信号 1", "信号 2", "信号 3", "信号 4", "信号 5", "信号 6", "信号 7", "信号 8", "信号 9", "新信号"], "paddingInner": 0, "paddingOuter": 0}, "axis": {"orient": "bottom", "title": null, "labels": false, "ticks": false, "domain": false, "grid": false, "minExtent": 38, "maxExtent": 38}},
                "y": {"field": "row", "type": "nominal", "scale": {"type": "band", "domain": ["hdr", "r1", "r2", "r3", "r4", "r5", "r6", "r7a", "r7b"], "paddingInner": 0, "paddingOuter": 0}, "axis": null},
                "text": {"field": "text"}
              }
            },
            {
              "data": {"name": "cells7"},
              "mark": {"type": "text", "font": "Liberation Serif", "fontSize": 13.5, "color": "#222222"},
              "encoding": {
                "x": {"field": "col", "type": "nominal", "scale": {"type": "band", "domain": ["信号 1", "信号 2", "信号 3", "信号 4", "信号 5", "信号 6", "信号 7", "信号 8", "信号 9", "新信号"], "paddingInner": 0, "paddingOuter": 0}, "axis": {"orient": "bottom", "title": null, "labels": false, "ticks": false, "domain": false, "grid": false, "minExtent": 38, "maxExtent": 38}},
                "y": {"field": "row", "type": "nominal", "bandPosition": 1, "scale": {"type": "band", "domain": ["hdr", "r1", "r2", "r3", "r4", "r5", "r6", "r7a", "r7b"], "paddingInner": 0, "paddingOuter": 0}, "axis": null},
                "text": {"field": "text"}
              }
            },
            {
              "data": {"name": "hlines"},
              "mark": {"type": "rule", "color": "#111111", "strokeWidth": 1.2},
              "encoding": {
                "y": {"field": "row", "type": "nominal", "bandPosition": 0, "scale": {"type": "band", "domain": ["hdr", "r1", "r2", "r3", "r4", "r5", "r6", "r7a", "r7b"], "paddingInner": 0, "paddingOuter": 0}, "axis": null}
              }
            },
            {
              "data": {"name": "hbottom"},
              "mark": {"type": "rule", "color": "#111111", "strokeWidth": 1.2},
              "encoding": {
                "y": {"field": "row", "type": "nominal", "bandPosition": 1, "scale": {"type": "band", "domain": ["hdr", "r1", "r2", "r3", "r4", "r5", "r6", "r7a", "r7b"], "paddingInner": 0, "paddingOuter": 0}, "axis": null}
              }
            }
          ]
        }
      ]
    },
    {
      "spacing": 0,
      "resolve": {"scale": {"color": "independent"}, "legend": {"color": "independent"}},
      "hconcat": [
        {
          "width": 128,
          "height": 1,
          "data": {"values": []},
          "mark": {"type": "text"},
          "encoding": {"text": {"value": ""}}
        },
        {
          "width": 431,
          "height": 320,
          "view": {"stroke": "#222222", "strokeWidth": 1},
          "data": {"name": "lines"},
          "encoding": {
            "x": {
              "field": "date", "type": "temporal",
              "scale": {"type": "utc", "domain": [{"year": 2016, "month": 9, "date": 28, "utc": true}, {"year": 2022, "month": 8, "date": 20, "utc": true}]},
              "axis": {"title": null, "format": "%Y", "tickCount": {"interval": "year", "step": 1}, "labelFont": "Noto Sans Mono CJK SC, Noto Sans CJK SC", "labelFontSize": 12, "labelColor": "#222222", "tickColor": "#222222", "domainColor": "#222222", "tickSize": 4, "labelPadding": 2, "grid": false, "labelFlush": false, "labelOverlap": false, "minExtent": 54, "maxExtent": 54}
            },
            "y": {
              "field": "value", "type": "quantitative",
              "scale": {"domain": [-0.056, 0.584], "nice": false, "zero": false},
              "axis": {"title": null, "values": [0, 0.1, 0.2, 0.3, 0.4, 0.5], "format": ".1f", "labelFont": "Noto Sans Mono CJK SC, Noto Sans CJK SC", "labelFontSize": 12, "labelColor": "#222222", "tickColor": "#222222", "domainColor": "#222222", "tickSize": 4, "labelPadding": 4, "grid": false, "minExtent": 28, "maxExtent": 28}
            },
            "color": {
              "field": "series", "type": "nominal",
              "scale": {
                "domain": ["signal1", "signal2", "signal3", "signal4", "signal5", "signal6", "signal7", "signal8", "signal9", "均值策略"],
                "range": ["#1f77b4", "#ff7f0e", "#2ca02c", "#d62728", "#9467bd", "#8c564b", "#e377c2", "#7f7f7f", "#bcbd22", "#000000"]
              },
              "legend": {
                "title": null, "orient": "top-left", "offset": 5,
                "fillColor": "white", "strokeColor": "#d0d0d0", "cornerRadius": 3, "padding": 4,
                "labelFont": "Noto Sans Mono CJK SC, Noto Sans CJK SC", "labelFontSize": 12, "labelColor": "#111111", "labelLimit": 200,
                "symbolType": "M-2.5,0H2.5", "symbolSize": 100, "symbolStrokeWidth": 1.6, "symbolOffset": 7, "labelOffset": 18, "rowPadding": 4.7,
                "encode": {"symbols": {"update": {
                  "strokeWidth": {"signal": "datum.value === '均值策略' ? 3 : 1.6"},
                  "strokeDash": {"signal": "datum.value === '均值策略' ? [10, 4.5] : [1, 0]"}
                }}}
              }
            }
          },
          "layer": [
            {
              "transform": [{"filter": {"not": {"field": "series", "equal": "均值策略"}}}],
              "mark": {"type": "line", "strokeWidth": 1.7}
            },
            {
              "transform": [{"filter": {"field": "series", "equal": "均值策略"}}],
              "mark": {"type": "line", "strokeWidth": 3.2, "strokeDash": [10, 4.5]}
            }
          ]
        }
      ]
    },
    {
      "width": 725,
      "height": 25,
      "data": {"values": [{"k": "f"}]},
      "layer": [
        {
          "mark": {"type": "rule", "color": "#659fa0", "strokeWidth": 2.5},
          "encoding": {
            "y": {"field": "k", "type": "nominal", "bandPosition": 0, "scale": {"type": "band", "paddingInner": 0, "paddingOuter": 0}, "axis": null}
          }
        },
        {
          "mark": {"type": "text", "align": "left", "baseline": "middle", "dx": 8, "font": "Noto Sans CJK SC", "fontSize": 15, "fontStyle": "italic", "color": "#222222"},
          "encoding": {
            "x": {"field": "k", "type": "nominal", "bandPosition": 0, "scale": {"type": "band", "paddingInner": 0, "paddingOuter": 0}, "axis": null},
            "y": {"field": "k", "type": "nominal", "bandPosition": 0.64, "scale": {"type": "band", "paddingInner": 0, "paddingOuter": 0}, "axis": null},
            "text": {"value": "数据来源：中信建投期货"}
          }
        }
      ]
    }
  ]
}
